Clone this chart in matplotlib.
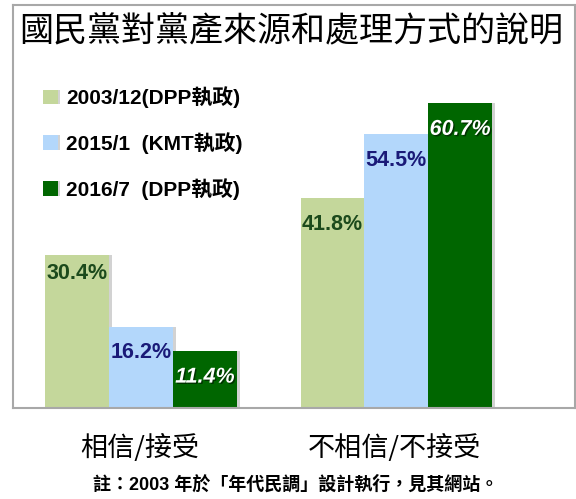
import matplotlib.pyplot as plt
import matplotlib.patheffects as pe
import numpy as np

plt.rcParams['font.family'] = ['Liberation Sans', 'Noto Sans CJK TC']

categories = ['相信/接受', '不相信/不接受']
series = ['2003/12(DPP執政)', '2015/1  (KMT執政)', '2016/7  (DPP執政)']
values_2003 = [30.4, 41.8]
values_2015 = [16.2, 54.5]
values_2016 = [11.4, 60.7]

colors = ['#c4d79b', '#b3d7fb', '#006600']
label_colors = ['#1c4a1c', '#1a1a78', 'white']
label_styles = ['normal', 'normal', 'italic']

fig = plt.figure(figsize=(5.76, 4.99), dpi=100)
W, H = 576, 499
ax = fig.add_axes([13 / W, (H - 408) / H, (575 - 13) / W, (408 - 5) / H])

x = np.arange(len(categories))
width = 0.25
all_vals = [values_2003, values_2015, values_2016]
for i, vals in enumerate(all_vals):
    bars = ax.bar(x + (i - 1) * width, vals, width, color=colors[i], label=series[i],
                  zorder=2)
    for b in bars:
        b.set_path_effects([pe.SimplePatchShadow(offset=(2, 0), shadow_rgbFace='gray', alpha=0.35),
                            pe.Normal()])
    for b, v in zip(bars, vals):
        off = -13 if i == 0 and v < 35 else -19
        txt = ax.annotate(f'{v}%', (b.get_x() + b.get_width() / 2, v),
                          xytext=(0, off), textcoords='offset points',
                          ha='center', va='center', fontsize=15.5, fontweight='bold',
                          color=label_colors[i], style=label_styles[i], zorder=3)
        if i == 2:
            txt.set_path_effects([pe.withSimplePatchShadow(offset=(1, -1), shadow_rgbFace='black', alpha=0.5)])

ax.set_xlim(-0.502, 1.70)
ax.set_ylim(0, 80.2)
ax.set_xticks([])
ax.set_yticks([])
for s in ax.spines.values():
    s.set_color('#a8a8a8')
    s.set_linewidth(1.5)

ax.text(0.495, 1 - 27 / 403, '國民黨對黨產來源和處理方式的說明', transform=ax.transAxes,
        ha='center', va='center', fontsize=24.5, family=['Noto Sans CJK TC'])

leg = ax.legend(loc='upper left', bbox_to_anchor=(22 / 562, 1 - 73 / 403), frameon=False,
                prop={'size': 15, 'weight': 'bold'}, handlelength=0.68, handleheight=0.68,
                handletextpad=0.4, labelspacing=1.15, borderaxespad=0)

fig.text(140 / W, 1 - 448 / H, categories[0], ha='center', va='center', fontsize=19.5,
         family=['Noto Sans CJK TC'])
fig.text(394 / W, 1 - 448 / H, categories[1], ha='center', va='center', fontsize=19.5,
         family=['Noto Sans CJK TC'])
fig.text(296 / W, 1 - 484 / H, '註：2003 年於「年代民調」設計執行，見其網站。', ha='center', va='center',
         fontsize=13, fontweight='bold', family=['Liberation Sans', 'Noto Sans CJK TC'])

fig.savefig('out.png', dpi=100)
